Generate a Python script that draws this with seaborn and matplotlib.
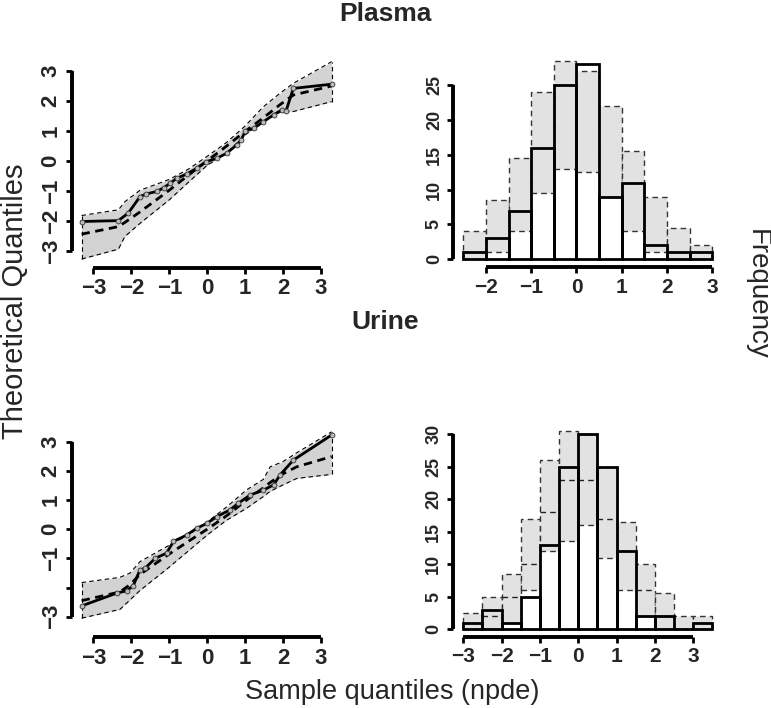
import numpy as np
import pandas as pd
import matplotlib
matplotlib.use("Agg")
import matplotlib.pyplot as plt
import seaborn as sns

# ---------------- data ----------------
# Plasma QQ (sample quantiles x, theoretical quantiles y)
plasma_obs_x = [-3.31, -2.34, -2.08, -1.77, -1.6, -1.33, -1.15, -0.98, -0.8, -0.54, -0.28,
                -0.03, 0.25, 0.51, 0.78, 0.9, 1.0, 1.22, 1.48, 1.75, 1.96, 2.08, 2.27, 3.28]
plasma_obs_y = [-2.02, -1.99, -1.74, -1.19, -1.1, -1.02, -0.9, -0.75, -0.58, -0.44, -0.25,
                -0.03, 0.08, 0.25, 0.53, 0.7, 0.99, 1.08, 1.3, 1.53, 1.69, 1.67, 2.41, 2.55]
plasma_band_x = [-3.31, -2.34, -2.17, -1.77, -1.0, -0.5, 0.0, 0.5, 1.0, 1.48, 1.92, 2.27, 3.28]
plasma_band_up = [-1.82, -1.63, -1.36, -0.98, -0.62, -0.28, 0.15, 0.6, 1.16, 1.8, 2.25, 2.58, 3.3]
plasma_band_lo = [-3.27, -2.94, -2.52, -2.08, -1.3, -0.72, -0.15, 0.25, 0.86, 1.3, 1.62, 1.64, 1.97]
plasma_band_med = [-2.44, -2.19, -2.05, -1.7, -0.98, -0.48, 0.0, 0.48, 0.98, 1.43, 1.87, 2.19, 2.49]

# Plasma histogram
plasma_edges = [-2.5, -2.0, -1.5, -1.0, -0.5, 0.0, 0.5, 1.0, 1.5, 2.0, 2.5, 3.0]
plasma_counts = [1, 3, 7, 16, 25, 28, 9, 11, 2, 1, 1]
plasma_pi_lo = [0, 1, 4, 9.5, 13, 12.5, 9, 4, 1, 0, 0]
plasma_pi_up = [4, 8.5, 14.5, 24, 28.5, 27, 22, 15.5, 9, 4.5, 2]

# Urine QQ
urine_obs_x = [-3.31, -2.38, -2.12, -1.95, -1.77, -1.64, -1.37, -1.07, -0.89, -0.54, -0.28,
               -0.01, 0.25, 0.6, 0.82, 1.13, 1.48, 1.75, 1.92, 2.27, 3.28]
urine_obs_y = [-2.63, -2.19, -2.11, -1.94, -1.39, -1.34, -1.0, -0.82, -0.42, -0.2, 0.03,
               0.2, 0.43, 0.66, 0.89, 1.17, 1.34, 1.52, 1.86, 2.37, 3.23]
urine_band_x = [-3.31, -2.3, -2.03, -1.77, -1.0, -0.5, 0.0, 0.5, 1.04, 1.48, 1.66, 2.0, 2.36, 3.28]
urine_band_up = [-1.83, -1.65, -1.5, -1.11, -0.55, -0.2, 0.25, 0.75, 1.35, 1.71, 2.14, 2.32, 2.62, 3.34]
urine_band_lo = [-3.05, -2.75, -2.42, -2.1, -1.3, -0.75, -0.2, 0.3, 0.72, 1.12, 1.3, 1.52, 1.74, 1.88]
urine_band_med = [-2.45, -2.15, -1.9, -1.55, -0.85, -0.42, 0.0, 0.45, 1.0, 1.42, 1.6, 1.9, 2.14, 2.49]

# Urine histogram
urine_edges = [-3.0, -2.5, -2.0, -1.5, -1.0, -0.5, 0.0, 0.5, 1.0, 1.5, 2.0, 2.5, 3.0, 3.5]
urine_counts = [1, 3, 1, 5, 13, 25, 30, 25, 12, 2, 2, 0, 1]
urine_pi_lo = [0, 0, 1, 6, 12, 13.5, 16, 11, 6, 2, 0, 0, 0]
urine_pi_mid = [1, 2, 5, 10, 18, 23, 23, 17, 12, 6, 2, 0, 1]
urine_pi_up = [2.5, 5, 8.5, 17, 26, 30.5, 30, 25, 16.5, 10, 5.5, 2, 2]

qq_ticks = [-3, -2, -1, 0, 1, 2, 3]
plasma_qq_yticklabels = ["\u22123", "\u22122", "\u22121", "0", "1", "2", "3"]
urine_qq_yticklabels = ["\u22123", "", "\u22121", "0", "1", "2", "3"]
qq_xticklabels = ["\u22123", "\u22122", "\u22121", "0", "1", "2", "3"]
plasma_hist_xticks = [-2, -1, 0, 1, 2, 3]
plasma_hist_yticks = [0, 5, 10, 15, 20, 25]
urine_hist_xticks = [-3, -2, -1, 0, 1, 2, 3]
urine_hist_yticks = [0, 5, 10, 15, 20, 25, 30]

# ---------------- style ----------------
sns.set_style("ticks")
plt.rcParams["font.family"] = ["Liberation Sans", "DejaVu Sans"]
plt.rcParams["axes.unicode_minus"] = True

W, H = 771, 708
fig = plt.figure(figsize=(W / 100, H / 100), dpi=100)


def add_ax(left, top, right, bottom):
    return fig.add_axes([left / W, 1 - bottom / H, (right - left) / W, (bottom - top) / H])


def style_axes(ax, xb, yb, xt, yt, xtl, ytl, fs_x, fs_y):
    for s in ["top", "right"]:
        ax.spines[s].set_visible(False)
    for s in ["left", "bottom"]:
        ax.spines[s].set_linewidth(2.8)
        ax.spines[s].set_color("black")
        ax.spines[s].set_capstyle("butt")
    ax.spines["bottom"].set_bounds(*xb)
    ax.spines["left"].set_bounds(*yb)
    ax.set_xticks(xt)
    ax.set_yticks(yt)
    ax.set_xticklabels(xtl, fontsize=fs_x, fontweight="bold")
    ax.set_yticklabels(ytl, fontsize=fs_y, fontweight="bold", rotation=90, va="center")
    ax.tick_params(axis="both", length=4.5, width=2.0, color="black", pad=3)
    ax.set_xlabel("")
    ax.set_ylabel("")
    ax.grid(False)
    ax.set_facecolor("white")


def qq_panel(ax, ox, oy, bx, bup, blo, bmed, xlim, ylim, ytl):
    ax.fill_between(bx, blo, bup, color="#d3d3d3", linewidth=0, zorder=1)
    band = pd.DataFrame({"x": bx, "up": bup, "lo": blo, "med": bmed})
    sns.lineplot(data=band, x="x", y="up", ax=ax, color="black", linewidth=0.8,
                 linestyle=(0, (4, 3)), sort=False, zorder=2)
    sns.lineplot(data=band, x="x", y="lo", ax=ax, color="black", linewidth=0.8,
                 linestyle=(0, (4, 3)), sort=False, zorder=2)
    ax.vlines([bx[0], bx[-1]], [blo[0], blo[-1]], [bup[0], bup[-1]], colors="black",
              linewidth=0.8, linestyles=(0, (4, 3)), zorder=2)
    sns.lineplot(data=band, x="x", y="med", ax=ax, color="black", linewidth=2.0,
                 linestyle=(0, (3, 2)), sort=False, zorder=3)
    obs = pd.DataFrame({"x": ox, "y": oy})
    sns.lineplot(data=obs, x="x", y="y", ax=ax, color="black", linewidth=2.0,
                 sort=False, zorder=4, marker="o", markersize=3.5,
                 markerfacecolor="#bbbbbb", markeredgecolor="#333333", markeredgewidth=0.6)
    ax.set_xlim(*xlim)
    ax.set_ylim(*ylim)
    style_axes(ax, (-3, 3), (-3, 3), qq_ticks, qq_ticks, qq_xticklabels, ytl, 16, 16)


def hist_panel(ax, edges, counts, lo, up, mid, xlim, ylim, xt, yt):
    e = np.asarray(edges, float)
    lefts = e[:-1]
    width = np.diff(e)
    lo = np.asarray(lo, float)
    up = np.asarray(up, float)
    ax.bar(lefts, up - lo, bottom=lo, width=width, align="edge", color="#e2e2e2",
           edgecolor="#333333", linewidth=1.0, linestyle=(0, (4, 3)), zorder=1)
    if mid is not None:
        ax.hlines(mid, lefts, lefts + width, colors="#222222", linewidth=1.0,
                  linestyles=(0, (4, 3)), zorder=2)
    obs = pd.DataFrame({"x": lefts + width / 2, "w": np.asarray(counts, float)})
    sns.histplot(data=obs, x="x", weights="w", bins=list(edges), ax=ax, fill=False,
                 element="bars", color="black", edgecolor="black", linewidth=2.0, zorder=3)
    ax.set_xlim(*xlim)
    ax.set_ylim(*ylim)
    style_axes(ax, (xt[0], xt[-1]), (yt[0], yt[-1]), xt, yt,
               [str(v).replace("-", "\u2212") for v in xt], [str(v) for v in yt], 15, 13)


# Plasma QQ
ax1 = add_ax(72, 53.5, 341.5, 268)
qq_panel(ax1, plasma_obs_x, plasma_obs_y, plasma_band_x, plasma_band_up, plasma_band_lo,
         plasma_band_med, (-3.563, 3.539), (-3.567, 3.571), plasma_qq_yticklabels)

# Plasma hist
ax2 = add_ax(453.3, 53, 722, 267.3)
hist_panel(ax2, plasma_edges, plasma_counts, plasma_pi_lo, plasma_pi_up, None,
           (-2.722, 3.215), (-1.148, 29.6), plasma_hist_xticks, plasma_hist_yticks)

# Urine QQ
ax3 = add_ax(72, 424.2, 341.5, 637.3)
qq_panel(ax3, urine_obs_x, urine_obs_y, urine_band_x, urine_band_up, urine_band_lo,
         urine_band_med, (-3.563, 3.539), (-3.706, 3.6), urine_qq_yticklabels)

# Urine hist
ax4 = add_ax(452.7, 423, 722, 636.7)
hist_panel(ax4, urine_edges, urine_counts, urine_pi_lo, urine_pi_up, urine_pi_mid,
           (-3.277, 3.749), (-1.185, 31.7), urine_hist_xticks, urine_hist_yticks)

# Titles and labels
fig.text(385 / W, 1 - 14 / H, "Plasma", ha="center", va="center", fontsize=19, fontweight="bold")
fig.text(385 / W, 1 - 322 / H, "Urine", ha="center", va="center", fontsize=19, fontweight="bold")
fig.text(15 / W, 1 - 301 / H, "Theoretical Quantiles", ha="center", va="center",
         rotation=90, fontsize=21)
fig.text(757 / W, 1 - 294 / H, "Frequency", ha="center", va="center", rotation=-90, fontsize=20)
fig.text(392 / W, 1 - 692 / H, "Sample quantiles (npde)", ha="center", va="center", fontsize=19.5)

fig.savefig("out.png", dpi=100, facecolor="white")
